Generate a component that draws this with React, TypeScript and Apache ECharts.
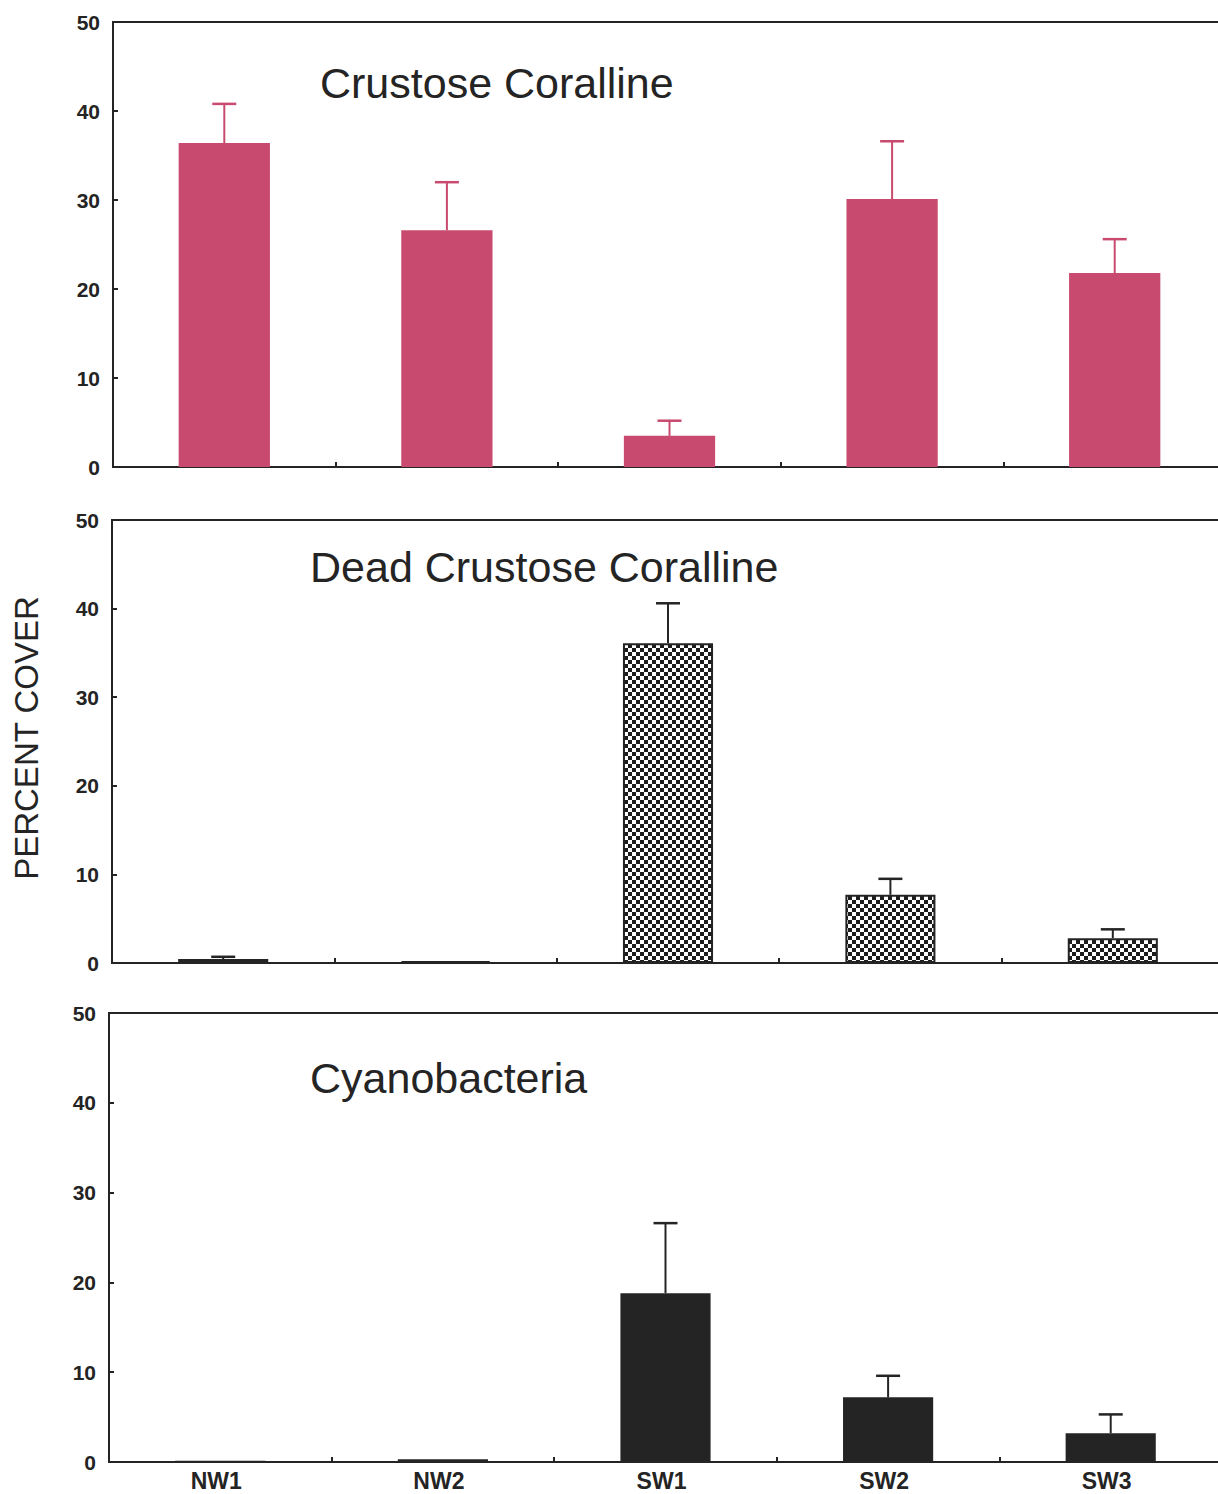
import React, { useEffect, useRef } from 'react';
import * as echarts from 'echarts';

const sites = ['NW1', 'NW2', 'SW1', 'SW2', 'SW3'];
const yTickValues = [0, 10, 20, 30, 40, 50];
const crustoseMean = [36.4, 26.6, 3.5, 30.1, 21.8];
const crustoseUpper = [40.8, 32.0, 5.2, 36.6, 25.6];
const deadMean = [0.45, 0.2, 36.1, 7.7, 2.8];
const deadUpper = [0.7, 0.2, 40.6, 9.5, 3.8];
const cyanoMean = [0.15, 0.3, 18.8, 7.2, 3.2];
const cyanoUpper = [0.15, 0.3, 26.6, 9.6, 5.3];
const panelTitles = ['Crustose Coralline', 'Dead Crustose Coralline', 'Cyanobacteria'];
const yAxisTitle = 'PERCENT COVER';

const FONT = "'Liberation Sans', Arial, Helvetica, sans-serif";
const PINK = '#C94A6F';
const DARK = '#242424';

export default function App() {
  const ref = useRef<HTMLDivElement>(null);

  useEffect(() => {
    if (!ref.current) return;
    const chart = echarts.init(ref.current, null, { renderer: 'svg' });

    const c = document.createElement('canvas');
    c.width = 8;
    c.height = 8;
    const ctx = c.getContext('2d')!;
    ctx.fillStyle = '#ffffff';
    ctx.fillRect(0, 0, 8, 8);
    ctx.fillStyle = '#1c1c1c';
    ctx.fillRect(0, 0, 4, 4);
    ctx.fillRect(4, 4, 4, 4);
    const checker: any = { image: c, repeat: 'repeat', imageWidth: 8, imageHeight: 8 };

    const grids = [
      { left: 113, top: 22, width: 1113, height: 445 },
      { left: 112, top: 520, width: 1112, height: 443 },
      { left: 109, top: 1013, width: 1113, height: 449 },
    ];

    const errRender = (color: string) => (params: any, api: any) => {
      const i = api.value(0);
      const m = api.value(1);
      const u = api.value(2);
      if (u - m < 0.01) return null;
      const p0 = api.coord([i, m]);
      const p1 = api.coord([i, u]);
      const hw = 12;
      return {
        type: 'group',
        children: [
          { type: 'line', shape: { x1: p0[0], y1: p0[1], x2: p1[0], y2: p1[1] }, style: { stroke: color, lineWidth: 2 } },
          { type: 'line', shape: { x1: p1[0] - hw, y1: p1[1], x2: p1[0] + hw, y2: p1[1] }, style: { stroke: color, lineWidth: 2.5 } },
        ],
      };
    };

    const means = [crustoseMean, deadMean, cyanoMean];
    const uppers = [crustoseUpper, deadUpper, cyanoUpper];
    const errColors = [PINK, DARK, DARK];

    const series: any[] = [];
    for (let p = 0; p < 3; p++) {
      const itemStyle: any =
        p === 0
          ? { color: PINK }
          : p === 1
          ? { color: checker, borderColor: DARK, borderWidth: 2 }
          : { color: DARK };
      series.push({
        type: 'bar',
        xAxisIndex: p,
        yAxisIndex: p,
        data: means[p],
        barWidth: p === 0 ? '41%' : '40.5%',
        itemStyle,
        z: 2,
      });
      series.push({
        type: 'custom',
        xAxisIndex: p,
        yAxisIndex: p,
        data: sites.map((_, i) => [i, means[p][i], uppers[p][i]]),
        renderItem: errRender(errColors[p]),
        z: 3,
      });
    }

    const titleStyle = (text: string) => ({
      text,
      font: `43px ${FONT}`,
      fill: DARK,
      textAlign: 'left',
      textVerticalAlign: 'middle',
      align: 'left',
      verticalAlign: 'middle',
    });

    const option: any = {
      animation: false,
      backgroundColor: '#ffffff',
      grid: grids.map((g) => ({
        ...g,
        show: true,
        borderColor: DARK,
        borderWidth: 2,
        backgroundColor: 'transparent',
        containLabel: false,
        outerBoundsMode: 'none',
      })),
      xAxis: grids.map((_, p) => ({
        type: 'category',
        gridIndex: p,
        data: sites,
        axisLine: { show: true, lineStyle: { color: DARK, width: 2 } },
        axisTick: { show: true, inside: true, length: 5, lineStyle: { color: DARK, width: 2 } },
        axisLabel: {
          show: p === 2,
          color: DARK,
          fontFamily: FONT,
          fontSize: 23,
          fontWeight: 'bold',
          margin: 7,
          padding: [0, 8, 0, 0],
        },
        splitLine: { show: false },
      })),
      yAxis: grids.map((_, p) => ({
        type: 'value',
        gridIndex: p,
        min: yTickValues[0],
        max: yTickValues[yTickValues.length - 1],
        interval: yTickValues[1] - yTickValues[0],
        axisLine: { show: true, lineStyle: { color: DARK, width: 2 } },
        axisTick: { show: true, inside: true, length: 5, lineStyle: { color: DARK, width: 2 } },
        axisLabel: {
          color: DARK,
          fontFamily: FONT,
          fontSize: 21,
          fontWeight: 'bold',
          margin: 13,
        },
        splitLine: { show: false },
      })),
      graphic: [
        { type: 'text', x: 320, y: 83, style: titleStyle(panelTitles[0]) },
        { type: 'text', x: 310, y: 567, style: titleStyle(panelTitles[1]) },
        { type: 'text', x: 310, y: 1078, style: titleStyle(panelTitles[2]) },
        {
          type: 'text',
          x: 26,
          y: 738,
          rotation: Math.PI / 2,
          style: { text: yAxisTitle, font: `33px ${FONT}`, fill: DARK, textAlign: 'center', textVerticalAlign: 'middle', align: 'center', verticalAlign: 'middle' },
        },
      ],
      series,
    };

    chart.setOption(option);
    return () => chart.dispose();
  }, []);

  return (
    <div style={{ position: 'absolute', left: 0, top: 0, width: 1218, height: 1494, overflow: 'hidden', background: '#fff' }}>
      <div ref={ref} style={{ width: 1240, height: 1494 }} />
    </div>
  );
}
